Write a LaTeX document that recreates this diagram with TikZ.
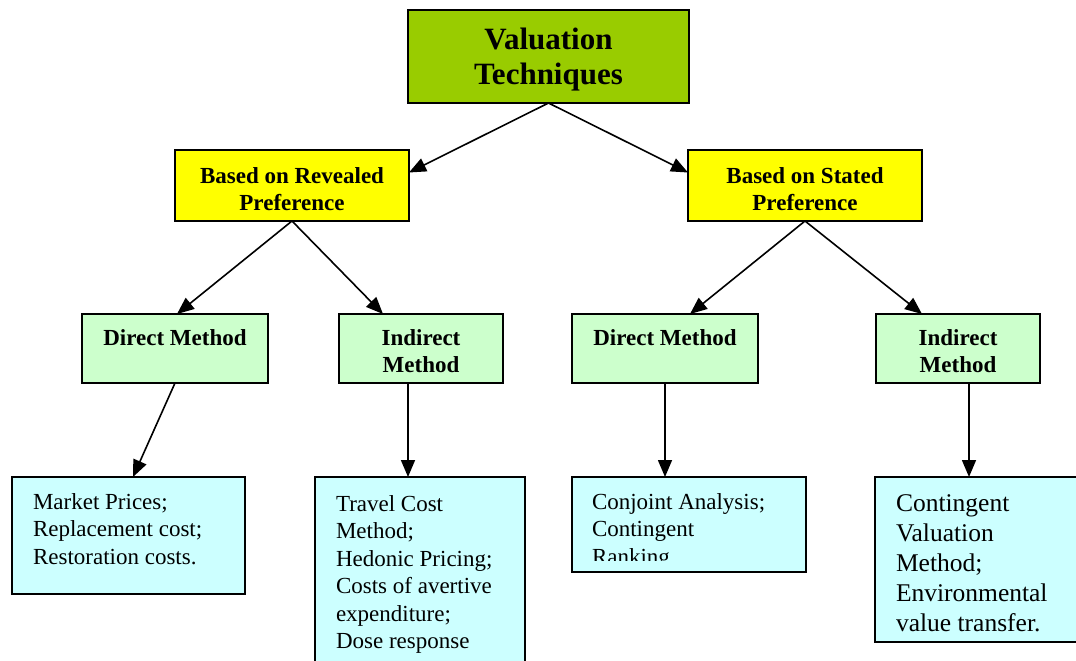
\documentclass[tikz,border=0pt]{standalone}
\usepackage{fontspec}
\setmainfont{Liberation Serif}
\usetikzlibrary{arrows.meta}
\definecolor{topgreen}{HTML}{99CC00}
\definecolor{yel}{HTML}{FFFF00}
\definecolor{lgreen}{HTML}{CCFFCC}
\definecolor{lcyan}{HTML}{CCFFFF}
\begin{document}
\begin{tikzpicture}[x=1pt,y=-1pt,
  box/.style={draw=black, line width=2pt, inner sep=0pt, outer sep=0pt, anchor=north west},
  txt/.style={inner sep=0pt, outer sep=0pt},
  conn/.style={line width=1.6pt, -{Triangle[length=17pt,width=14pt]}},
  bigb/.style={txt, anchor=base, font=\fontsize{31}{35}\selectfont\bfseries},
  midb/.style={txt, anchor=base, font=\fontsize{23}{27}\selectfont\bfseries},
  leaf/.style={txt, anchor=base west, font=\fontsize{23}{27.5}\selectfont},
  leafbig/.style={txt, anchor=base west, font=\fontsize{25.5}{30}\selectfont}]
\useasboundingbox (0,0) rectangle (1076,661);
\clip (0,0) rectangle (1076,661);
\fill[white] (0,0) rectangle (1076,661);

% boxes
\node[box, fill=topgreen, minimum width=281pt, minimum height=93pt] (top) at (408,10) {};
\node[box, fill=yel, minimum width=234pt, minimum height=71pt] (rev) at (175,150) {};
\node[box, fill=yel, minimum width=234pt, minimum height=71pt] (sta) at (688,150) {};
\node[box, fill=lgreen, minimum width=186pt, minimum height=69pt] (dl) at (82,314) {};
\node[box, fill=lgreen, minimum width=164pt, minimum height=69pt] (il) at (339,314) {};
\node[box, fill=lgreen, minimum width=186pt, minimum height=69pt] (dr) at (572,314) {};
\node[box, fill=lgreen, minimum width=164pt, minimum height=69pt] (ir) at (876,314) {};
\node[box, fill=lcyan, minimum width=233pt, minimum height=117pt] (l1) at (12,477) {};
\node[box, fill=lcyan, minimum width=210pt, minimum height=200pt] (l2) at (315,477) {};
\node[box, fill=lcyan, minimum width=234pt, minimum height=95pt] (l3) at (572,477) {};
\node[box, fill=lcyan, minimum width=225pt, minimum height=165pt] (l4) at (875,477) {};

% texts
\node[bigb] (toptxt) at (548.5,50) {\begin{tabular}[t]{@{}c@{}}Valuation\\Techniques\end{tabular}};
\node[midb] (revtxt) at (292,183) {\begin{tabular}[t]{@{}c@{}}Based on Revealed\\Preference\end{tabular}};
\node[midb] (statxt) at (805,183) {\begin{tabular}[t]{@{}c@{}}Based on Stated\\Preference\end{tabular}};
\node[midb] (dltxt) at (175,345) {Direct Method};
\node[midb] (iltxt) at (421,345) {\begin{tabular}[t]{@{}c@{}}Indirect\\Method\end{tabular}};
\node[midb] (drtxt) at (665,345) {Direct Method};
\node[midb] (irtxt) at (958,345) {\begin{tabular}[t]{@{}c@{}}Indirect\\Method\end{tabular}};

\node[leaf] (l1txt) at (33,509) {\begin{tabular}[t]{@{}l@{}}Market Prices;\\Replacement cost;\\Restoration costs.\end{tabular}};
\node[leaf] (l2txt) at (336,511) {\begin{tabular}[t]{@{}l@{}}Travel Cost\\Method;\\Hedonic Pricing;\\Costs of avertive\\expenditure;\\Dose response\end{tabular}};
\begin{scope}
\clip (572,477) rectangle (806,560);
\node[leaf] (l3txt) at (592,509) {\begin{tabular}[t]{@{}l@{}}Conjoint Analysis;\\Contingent\\Ranking\end{tabular}};
\end{scope}
\node[leafbig] (l4txt) at (896,511) {\begin{tabular}[t]{@{}l@{}}Contingent\\Valuation\\Method;\\Environmental\\value transfer.\end{tabular}};

% connectors
\draw[conn] (top.south) -- ([yshift=13pt]rev.east);
\draw[conn] (top.south) -- ([yshift=13pt]sta.west);
\draw[conn] (rev.south) -- ([xshift=2pt]dl.north);
\draw[conn] (rev.south) -- ([xshift=-38pt]il.north);
\draw[conn] (sta.south) -- ([xshift=25pt]dr.north);
\draw[conn] (sta.south) -- ([xshift=-36pt]ir.north);
\draw[conn] (dl.south) -- ([xshift=4.5pt]l1.north);
\draw[conn] ([xshift=-13pt]il.south) -- ([xshift=-12pt]l2.north);
\draw[conn] (dr.south) -- ([xshift=-24pt]l3.north);
\draw[conn] ([xshift=11pt]ir.south) -- ([xshift=-18.5pt]l4.north);
\end{tikzpicture}
\end{document}
